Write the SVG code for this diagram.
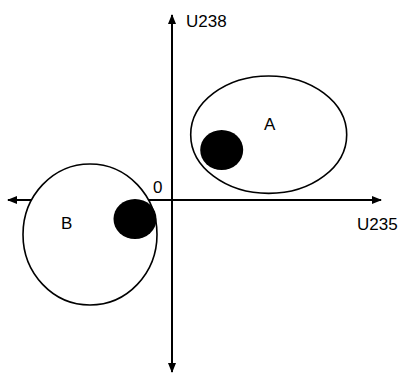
<svg xmlns="http://www.w3.org/2000/svg" width="405" height="374" viewBox="0 0 405 374">
<defs>
<marker id="arr" viewBox="0 0 10 10" refX="9" refY="5" markerWidth="5" markerHeight="5" orient="auto-start-reverse" markerUnits="strokeWidth">
<path d="M0,1 L10,5 L0,9 Z" fill="#000"/>
</marker>
<style>
.ax{stroke:#000;stroke-width:2;fill:none}
.ring{stroke:#000;stroke-width:1.6;fill:#fff}
.blob{fill:#000}
.t{font-family:"Liberation Sans",Arial,sans-serif;font-size:17px;fill:#000}
</style>
</defs>
<rect width="405" height="374" fill="#fff"/>
<g id="connectors">
<line class="ax" x1="172" y1="372" x2="172" y2="15" marker-start="url(#arr)" marker-end="url(#arr)"/>
<line class="ax" x1="8" y1="200" x2="381" y2="200" marker-start="url(#arr)" marker-end="url(#arr)"/>
</g>
<g id="nodeB">
<ellipse class="ring" cx="90" cy="234.5" rx="67" ry="70.5"/>
<ellipse class="blob" cx="135" cy="219" rx="21.5" ry="20"/>
<text class="t" x="61" y="229">B</text>
</g>
<g id="nodeA">
<ellipse class="ring" cx="268.7" cy="134.7" rx="78" ry="58.7"/>
<ellipse class="blob" cx="221.7" cy="150" rx="21.5" ry="20"/>
<text class="t" x="264" y="130">A</text>
</g>
<g id="labels">
<text class="t" x="186" y="27">U238</text>
<text class="t" x="357" y="230">U235</text>
<text class="t" x="153" y="193">0</text>
</g>
</svg>
